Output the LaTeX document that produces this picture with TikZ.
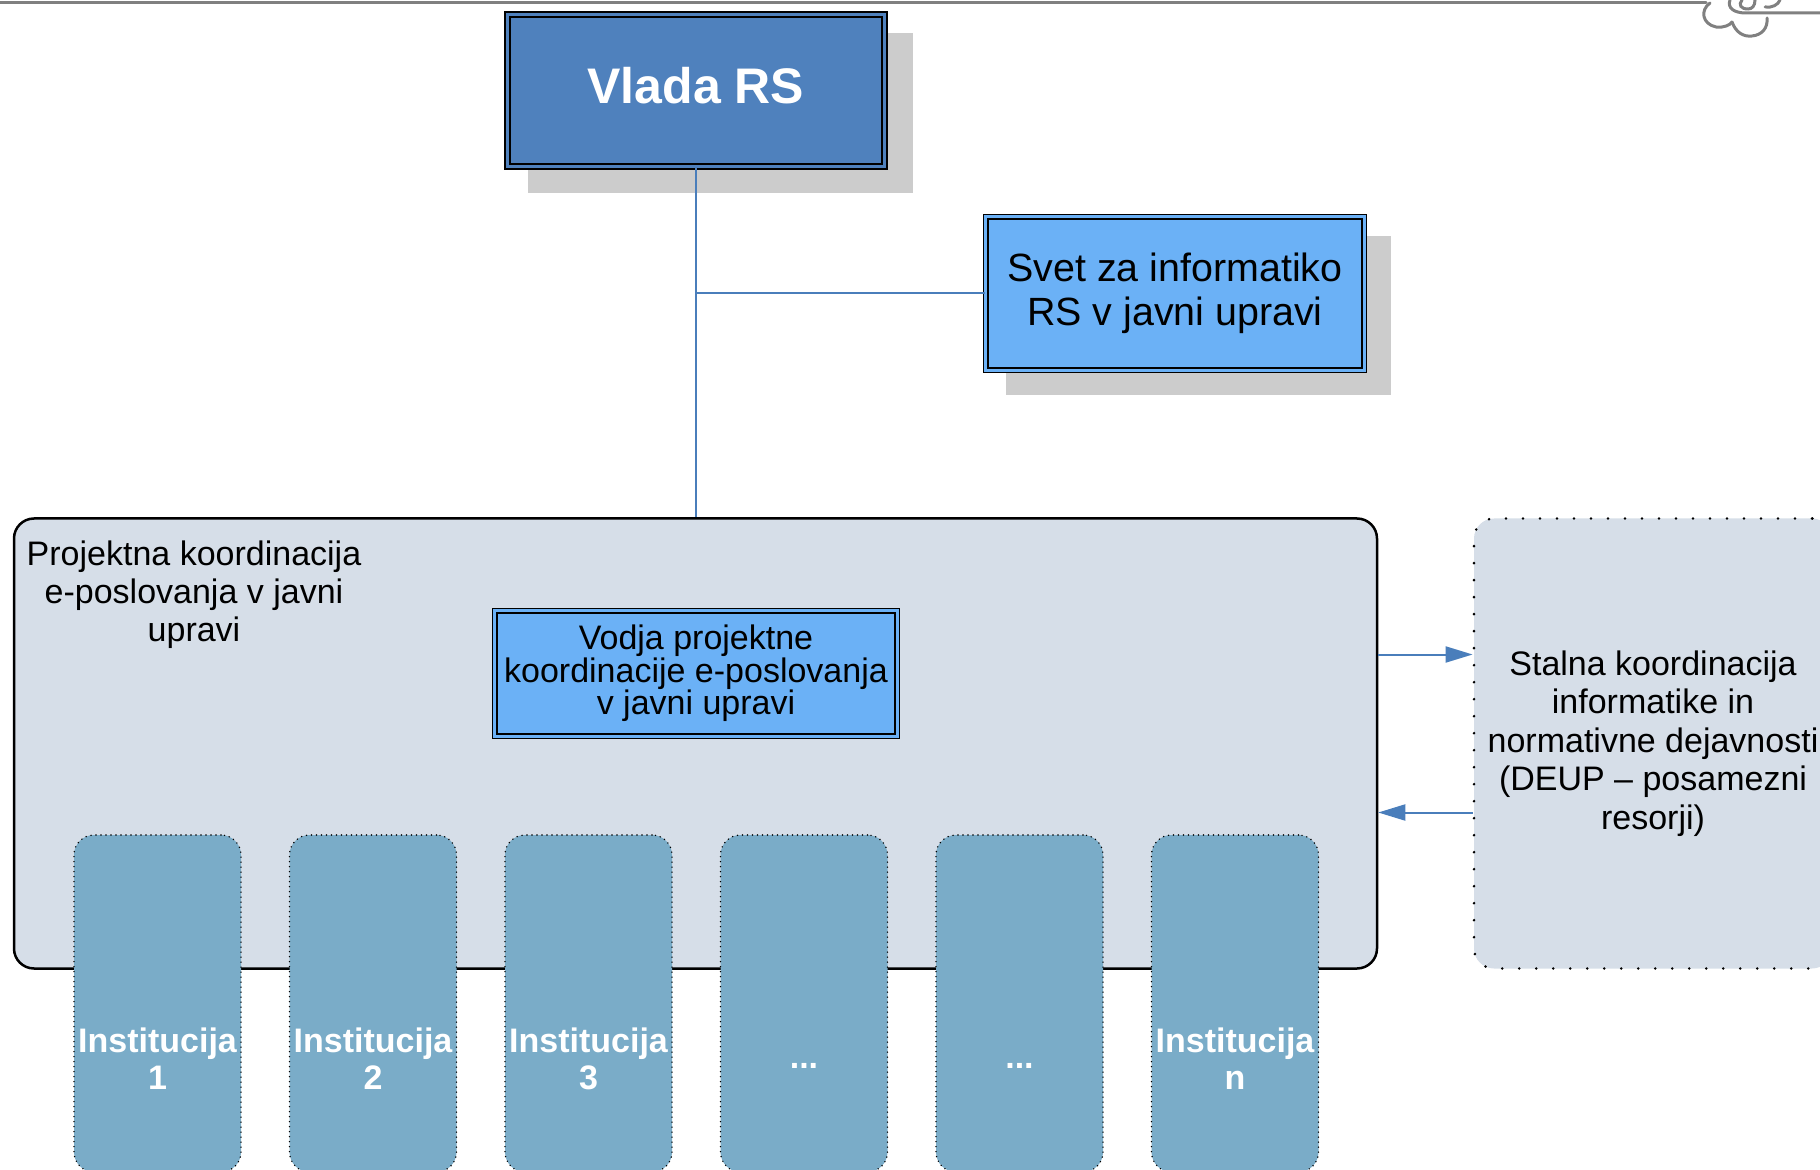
\documentclass[tikz,border=0pt]{standalone}
\usepackage{fontspec}
\setmainfont{Liberation Sans}
\usetikzlibrary{arrows.meta}

\definecolor{vladablue}{RGB}{79,129,189}
\definecolor{svetblue}{RGB}{107,177,246}
\definecolor{projfill}{RGB}{214,222,232}
\definecolor{instfill}{RGB}{122,172,200}
\definecolor{conblue}{RGB}{74,126,187}
\definecolor{shadowgray}{RGB}{204,204,204}
\definecolor{rulegray}{RGB}{128,128,128}

\tikzset{
  vladabox/.style={draw=black, line width=1pt, double=vladablue, double distance=1.5pt,
    fill=vladablue, inner sep=0pt, minimum width=188.5pt, minimum height=76pt, text depth=5.5pt,
    text=white, font=\fontsize{25pt}{28pt}\selectfont\bfseries},
  svetbox/.style={draw=black, line width=0.7pt, double=svetblue, double distance=1.5pt,
    fill=svetblue, inner sep=0pt, align=center},
  groupbox/.style={fill=projfill, rounded corners=10pt, inner sep=0pt},
  instbox/.style={draw=black, line width=0.8pt, line cap=round, dash pattern=on 0pt off 2.5pt,
    fill=instfill, rounded corners=10pt, inner sep=0pt, minimum width=83.5pt, minimum height=168.5pt},
  instlabel/.style={text=white, align=center, font=\fontsize{17pt}{18.5pt}\selectfont\bfseries},
  conn/.style={draw=conblue, line width=1pt},
  arr/.style={conn, -{Triangle[length=13.5pt,width=8pt]}},
  cloud/.style={draw=rulegray, line width=1.5pt, line cap=round}
}

\begin{document}
\begin{tikzpicture}[x=0.5pt,y=-0.5pt]
\useasboundingbox (0,0) rectangle (1820,1170);
\clip (0,0) rectangle (1820,1170);

%Top rule with cloud
\draw[cloud] (0,3) -- (1706,3);
\draw[cloud] (1710,3) .. controls (1700,10) and (1702,24) .. (1716,27) .. controls (1724,28) and (1730,25) .. (1732,22);
\draw[cloud] (1732,22) .. controls (1736,33) and (1744,37) .. (1752,36) .. controls (1762,35) and (1768,28) .. (1767,18);
\draw[cloud] (1730,0) .. controls (1727,8) and (1734,13) .. (1746,13) -- (1820,13);
\draw[cloud] (1742,0) .. controls (1738,5) and (1741,9) .. (1748,9) .. controls (1752,9) and (1755,6) .. (1755,0);
\draw[cloud] (1765,7) .. controls (1772,8) and (1778,5) .. (1780,0);

%Shadows
\fill[shadowgray] (528,33) rectangle (913,193);
\fill[shadowgray] (1006,236) rectangle (1391,395);

%Boxes
\node[vladabox] (vlada) at (696,90.5) {Vlada RS};

\node[svetbox, minimum width=189.1pt, minimum height=76.6pt,
  font=\fontsize{19.7pt}{22pt}\selectfont] (svet) at (1175,293.5) {Svet za informatiko\\RS v javni upravi};

\node[groupbox, draw=black, line width=1.25pt, minimum width=681.5pt, minimum height=225pt] (projekt) at (695.5,743.5) {};
\node[align=center, font=\fontsize{17pt}{19pt}\selectfont] (projektlabel) at (194,595) {Projektna koordinacija\\e-poslovanja v javni\\upravi};

\node[groupbox, draw=black, line width=1.4pt, line cap=round, dash pattern=on 0pt off 8.5pt,
  minimum width=179pt, minimum height=225pt, align=center,
  font=\fontsize{17pt}{19.2pt}\selectfont] (stalna) at (1653,743.5)
  {Stalna koordinacija\\informatike in\\normativne dejavnosti\\(DEUP -- posamezni\\resorji)};

\node[svetbox, minimum width=201.1pt, minimum height=62.6pt,
  font=\fontsize{17pt}{16.25pt}\selectfont] (vodja) at (696,673.5)
  {Vodja projektne\\koordinacije e-poslovanja\\v javni upravi};

%Institutions
\foreach \i/\txt/\dy in {1/{Institucija\\1}/-27.5pt, 2/{Institucija\\2}/-27.5pt, 3/{Institucija\\3}/-27.5pt,
    4/{...}/-31pt, 5/{...}/-31pt, 6/{Institucija\\n}/-27.5pt}
  \node[instbox, label={[instlabel, yshift=\dy]center:\txt}] (inst\i) at ({157.5+215.5*(\i-1)},1003.5) {};

%Connectors
\draw[conn] (vlada.south) -- (vlada.south |- projekt.north);
\draw[conn] (vlada.south |- svet.west) -- (svet.west);
\draw[arr] ([yshift=44.5pt]projekt.east) -- ([yshift=44.5pt]stalna.west);
\draw[arr] ([yshift=-34.5pt]stalna.west) -- ([yshift=-34.5pt]projekt.east);

\end{tikzpicture}
\end{document}
